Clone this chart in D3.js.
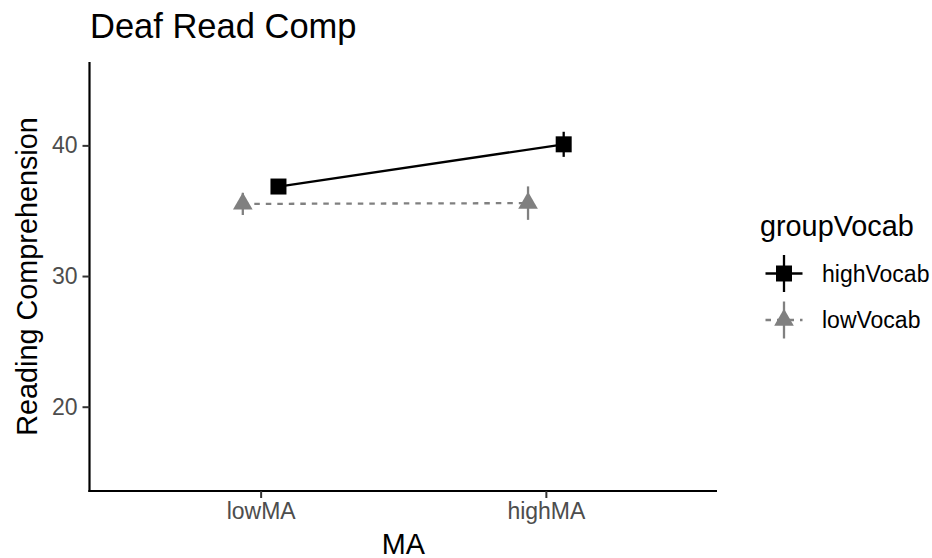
<!DOCTYPE html>
<html>
<head>
<meta charset="utf-8">
<script src="https://cdn.jsdelivr.net/npm/d3@7"></script>
<style>
  body { margin: 0; background: #fff; }
  svg text { font-family: "Liberation Sans", Arial, sans-serif; }
</style>
</head>
<body>
<div id="chart"></div>
<script>
// values
const categories = ["lowMA", "highMA"];
const groups = ["highVocab", "lowVocab"];
const highVocabMean = [36.85, 40.08];
const highVocabSE = [0.45, 0.96];
const lowVocabMean = [35.52, 35.58];
const lowVocabSE = [0.85, 1.28];
const yTicks = [20, 30, 40];
const yDomain = [13.55, 46.38];

function drawChart() {
  const width = 932;
  const height = 558;
  const left = 89.5, right = 717, top = 62, bottom = 491;

  const svg = d3.select("#chart")
    .append("svg")
    .attr("width", width)
    .attr("height", height);

  const xScale = d3.scalePoint()
    .domain(categories)
    .range([left, right])
    .padding(0.6);

  const yScale = d3.scaleLinear()
    .domain(yDomain)
    .range([bottom, top]);

  const dodge = xScale.step() * 0.0625;
  const dodgeScale = d3.scaleOrdinal().domain(groups).range([dodge, -dodge]);

  const styles = {
    highVocab: { color: "#000000", dash: null, symbol: d3.symbolSquare, size: 256 },
    lowVocab: { color: "#808080", dash: "5.5,6", symbol: d3.symbolTriangle, size: 167 }
  };

  const series = [
    { group: "highVocab", mean: highVocabMean, se: highVocabSE },
    { group: "lowVocab", mean: lowVocabMean, se: lowVocabSE }
  ].map(s => ({
    group: s.group,
    values: categories.map((c, i) => ({ cat: c, mean: s.mean[i], se: s.se[i] }))
  }));

  // title
  svg.append("text")
    .attr("x", 90)
    .attr("y", 37.5)
    .attr("font-size", 34.5)
    .attr("fill", "#000")
    .text("Deaf Read Comp");

  // axes
  const yAxis = d3.axisLeft(yScale).tickValues(yTicks).tickSize(7).tickPadding(5);
  const gy = svg.append("g")
    .attr("transform", `translate(${left},0)`)
    .call(yAxis);
  gy.select(".domain").attr("stroke", "#000").attr("stroke-width", 2.2);
  gy.selectAll(".tick line").attr("stroke", "#333").attr("stroke-width", 2);
  gy.selectAll(".tick text")
    .attr("fill", "#4d4d4d")
    .attr("font-size", 23)
    .attr("font-family", "Liberation Sans, Arial, sans-serif");

  const xAxis = d3.axisBottom(xScale).tickSize(7).tickPadding(5);
  const gx = svg.append("g")
    .attr("transform", `translate(0,${bottom})`)
    .call(xAxis);
  gx.select(".domain").attr("stroke", "#000").attr("stroke-width", 2.2);
  gx.selectAll(".tick line").attr("stroke", "#333").attr("stroke-width", 2);
  gx.selectAll(".tick text")
    .attr("fill", "#4d4d4d")
    .attr("font-size", 23)
    .attr("font-family", "Liberation Sans, Arial, sans-serif");

  // no outer ticks: plain axis lines
  gy.select(".domain").attr("d", `M0,${top}V${bottom + 1.1}`);
  gx.select(".domain").attr("d", `M-1.1,0H${right}`).attr("transform", `translate(${left},0)`);
  gx.select(".domain").attr("d", `M${left - 1.1},0H${right}`).attr("transform", null);

  // axis titles
  svg.append("text")
    .attr("x", (left + right) / 2)
    .attr("y", 553.5)
    .attr("text-anchor", "middle")
    .attr("font-size", 28.8)
    .text("MA");

  svg.append("text")
    .attr("transform", `translate(37,${(top + bottom) / 2}) rotate(-90)`)
    .attr("text-anchor", "middle")
    .attr("font-size", 28.8)
    .text("Reading Comprehension");

  const px = d => xScale(d.cat);

  // lines
  const line = d3.line()
    .x(d => px(d))
    .y(d => yScale(d.mean));

  series.forEach(s => {
    const st = styles[s.group];
    const off = dodgeScale(s.group);
    const g = svg.append("g").attr("transform", `translate(${off},0)`);

    g.append("path")
      .datum(s.values)
      .attr("d", line)
      .attr("fill", "none")
      .attr("stroke", st.color)
      .attr("stroke-width", 2.3)
      .attr("stroke-dasharray", st.dash);

    g.selectAll(".err")
      .data(s.values)
      .enter().append("line")
      .attr("class", "err")
      .attr("x1", d => px(d))
      .attr("x2", d => px(d))
      .attr("y1", d => yScale(d.mean - d.se))
      .attr("y2", d => yScale(d.mean + d.se))
      .attr("stroke", st.color)
      .attr("stroke-width", 2.3);

    g.selectAll(".pt")
      .data(s.values)
      .enter().append("path")
      .attr("class", "pt")
      .attr("transform", d => `translate(${px(d)},${yScale(d.mean)})`)
      .attr("d", d3.symbol().type(st.symbol).size(st.size))
      .attr("fill", st.color);
  });

  // legend
  const legend = svg.append("g");
  legend.append("text")
    .attr("x", 760)
    .attr("y", 236)
    .attr("font-size", 28.8)
    .text("groupVocab");

  const keyX = 784, keyY0 = 273.5, keyStep = 46.5, half = 18.5;
  groups.forEach((grp, i) => {
    const st = styles[grp];
    const cy = keyY0 + i * keyStep;
    const k = legend.append("g").attr("transform", `translate(${keyX},${cy})`);
    k.append("line")
      .attr("x1", -half).attr("x2", half)
      .attr("stroke", st.color).attr("stroke-width", 2.3)
      .attr("stroke-dasharray", st.dash);
    k.append("line")
      .attr("y1", -half).attr("y2", half)
      .attr("stroke", st.color).attr("stroke-width", 2.3);
    k.append("path")
      .attr("d", d3.symbol().type(st.symbol).size(st.size))
      .attr("fill", st.color);
    legend.append("text")
      .attr("x", 822)
      .attr("y", cy + 8)
      .attr("font-size", 23)
      .text(grp);
  });
}

window.onload = drawChart;
</script>
</body>
</html>
